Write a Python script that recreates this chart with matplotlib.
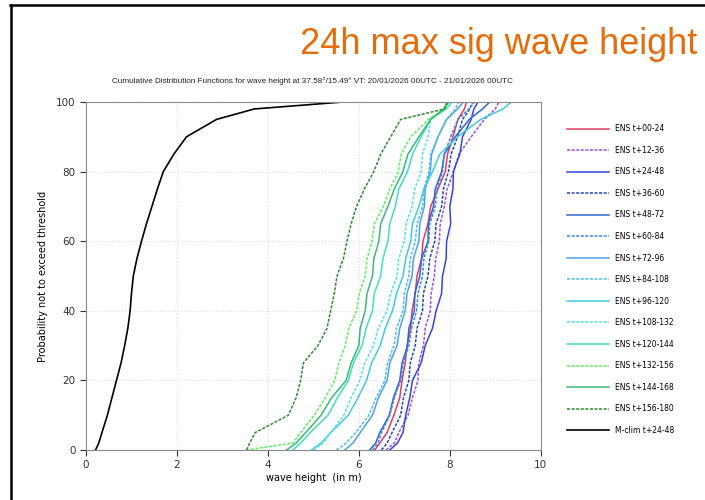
import numpy as np
import matplotlib
matplotlib.use("Agg")
import matplotlib.pyplot as plt
from matplotlib.lines import Line2D

# probability levels (%) shared by all curves
prob = [0, 2, 5, 10, 15, 20, 25, 30, 35, 40, 45, 50, 55, 60, 65, 70, 75, 80, 85, 90, 95, 98, 100]

# wave height (m) reached at each probability level
ens_00_24 = [6.35, 6.46, 6.62, 6.77, 6.90, 6.95, 7.02, 7.06, 7.14, 7.17, 7.24, 7.28, 7.38, 7.41, 7.52, 7.58, 7.74, 7.90, 7.95, 8.07, 8.18, 8.32, 8.37]
ens_12_36 = [6.60, 6.78, 6.88, 7.08, 7.18, 7.30, 7.32, 7.42, 7.46, 7.57, 7.59, 7.66, 7.69, 7.77, 7.79, 7.88, 7.94, 8.08, 8.20, 8.47, 8.76, 9.00, 9.08]
ens_24_48 = [6.68, 6.85, 6.97, 7.03, 7.12, 7.18, 7.37, 7.46, 7.62, 7.70, 7.82, 7.84, 7.92, 7.93, 8.02, 8.00, 8.07, 8.08, 8.22, 8.28, 8.47, 8.53, 8.62]
ens_36_60 = [6.50, 6.62, 6.73, 6.92, 6.98, 7.10, 7.13, 7.24, 7.28, 7.40, 7.42, 7.52, 7.56, 7.67, 7.70, 7.82, 7.86, 7.97, 8.03, 8.17, 8.28, 8.44, 8.50]
ens_48_72 = [6.24, 6.37, 6.46, 6.67, 6.76, 6.90, 6.95, 7.07, 7.10, 7.22, 7.23, 7.34, 7.38, 7.52, 7.53, 7.64, 7.68, 7.82, 7.88, 8.12, 8.43, 8.72, 8.88]
ens_60_84 = [6.30, 6.42, 6.50, 6.68, 6.78, 6.92, 6.98, 7.10, 7.16, 7.27, 7.30, 7.40, 7.43, 7.54, 7.56, 7.68, 7.72, 7.84, 7.88, 8.02, 8.18, 8.42, 8.55]
ens_72_96 = [5.69, 5.87, 6.03, 6.30, 6.43, 6.62, 6.68, 6.84, 6.90, 7.02, 7.06, 7.17, 7.20, 7.32, 7.34, 7.44, 7.46, 7.57, 7.60, 7.74, 7.93, 8.17, 8.30]
ens_84_108 = [5.51, 5.72, 5.93, 6.22, 6.38, 6.57, 6.63, 6.77, 6.83, 6.97, 7.00, 7.10, 7.13, 7.24, 7.28, 7.40, 7.43, 7.54, 7.58, 7.74, 7.93, 8.12, 8.20]
ens_96_120 = [4.96, 5.17, 5.38, 5.77, 5.98, 6.17, 6.28, 6.47, 6.58, 6.74, 6.83, 6.97, 7.03, 7.14, 7.18, 7.32, 7.43, 7.62, 7.78, 8.17, 8.68, 9.17, 9.35]
ens_108_132 = [5.00, 5.22, 5.38, 5.67, 5.83, 6.02, 6.13, 6.32, 6.43, 6.62, 6.70, 6.84, 6.88, 7.00, 7.04, 7.17, 7.23, 7.37, 7.40, 7.52, 7.58, 7.87, 7.95]
ens_120_144 = [4.55, 4.72, 4.93, 5.32, 5.53, 5.77, 5.88, 6.07, 6.16, 6.30, 6.34, 6.48, 6.53, 6.64, 6.68, 6.80, 6.88, 7.07, 7.18, 7.37, 7.58, 7.92, 8.05]
ens_132_156 = [3.53, 4.55, 4.72, 5.02, 5.26, 5.47, 5.56, 5.70, 5.78, 5.95, 6.01, 6.14, 6.18, 6.29, 6.34, 6.54, 6.68, 6.87, 6.93, 7.14, 7.53, 7.87, 7.93]
ens_144_168 = [4.41, 4.62, 4.83, 5.17, 5.40, 5.72, 5.83, 6.00, 6.03, 6.14, 6.18, 6.30, 6.33, 6.44, 6.48, 6.64, 6.78, 6.97, 7.08, 7.32, 7.58, 7.87, 7.98]
ens_156_180 = [3.53, 3.60, 3.72, 4.45, 4.62, 4.72, 4.78, 5.10, 5.30, 5.38, 5.46, 5.52, 5.66, 5.74, 5.83, 5.95, 6.12, 6.33, 6.48, 6.70, 6.92, 7.88, 7.95]
mclim_24_48 = [0.21, 0.28, 0.35, 0.47, 0.57, 0.67, 0.77, 0.85, 0.92, 0.97, 1.00, 1.04, 1.12, 1.22, 1.33, 1.45, 1.57, 1.70, 1.93, 2.21, 2.87, 3.70, 5.65]

ens_labels = ["ENS t+00-24", "ENS t+12-36", "ENS t+24-48", "ENS t+36-60", "ENS t+48-72",
              "ENS t+60-84", "ENS t+72-96", "ENS t+84-108", "ENS t+96-120", "ENS t+108-132",
              "ENS t+120-144", "ENS t+132-156", "ENS t+144-168", "ENS t+156-180"]
ens_data = [ens_00_24, ens_12_36, ens_24_48, ens_36_60, ens_48_72, ens_60_84, ens_72_96,
            ens_84_108, ens_96_120, ens_108_132, ens_120_144, ens_132_156, ens_144_168, ens_156_180]
ens_colors = ["#e23c64", "#9b4ff0", "#3446d8", "#2447b0", "#2f66d6", "#3d86e0", "#4ea2ea",
              "#4fbde0", "#3fcbe0", "#55e2e6", "#3fe0b8", "#5df05d", "#3cb878", "#2e8a2e"]

fig = plt.figure(figsize=(7.05, 5), dpi=100)
ax = fig.add_axes([0.122, 0.10, 0.645, 0.696])

handles = []
for i, (vals, lab, col) in enumerate(zip(ens_data, ens_labels, ens_colors)):
    ls = "-" if i % 2 == 0 else (0, (2, 1))
    line, = ax.plot(vals, prob, color=col, lw=1.1, ls=ls, label=lab)
    handles.append(line)
clim, = ax.plot(mclim_24_48, prob, color="black", lw=1.2, label="M-clim t+24-48")
handles.append(clim)

ax.set_xlim(0, 10)
ax.set_ylim(0, 100)
ax.set_xticks(range(0, 11, 2))
ax.set_yticks(range(0, 101, 20))
ax.grid(True, color="#dddddd", ls=":", lw=0.8)
ax.tick_params(labelsize=7.5, colors="#333333", length=4, direction="out")
for s in ax.spines.values():
    s.set_color("#888888")
    s.set_linewidth(0.8)
ax.set_xlabel("wave height  (in m)", fontsize=7, labelpad=2)
ax.set_ylabel("Probability not to exceed threshold", fontsize=7, labelpad=6)

fig.legend(handles=handles, loc="upper left", bbox_to_anchor=(0.795, 0.765),
           frameon=False, fontsize=5.5, handlelength=5.5, handletextpad=0.8,
           labelspacing=1.64)

fig.text(0.989, 0.912, "24h max sig wave height", color="#e46c0a", fontsize=26,
         family="Liberation Sans", ha="right", va="center")
fig.text(0.443, 0.838, "Cumulative Distribution Functions for wave height at 37.58\u00b0/15.49\u00b0 "
         "VT: 20/01/2026 00UTC - 21/01/2026 00UTC", fontsize=5.9, family="Liberation Sans",
         ha="center", va="center", color="#222222")

# slide frame
fig.add_artist(Line2D([0.014, 1.0], [0.99, 0.99], color="black", lw=1.8, transform=fig.transFigure))
fig.add_artist(Line2D([0.016, 0.016], [0.0, 0.99], color="black", lw=1.8, transform=fig.transFigure))

fig.savefig("out.png", dpi=100)
